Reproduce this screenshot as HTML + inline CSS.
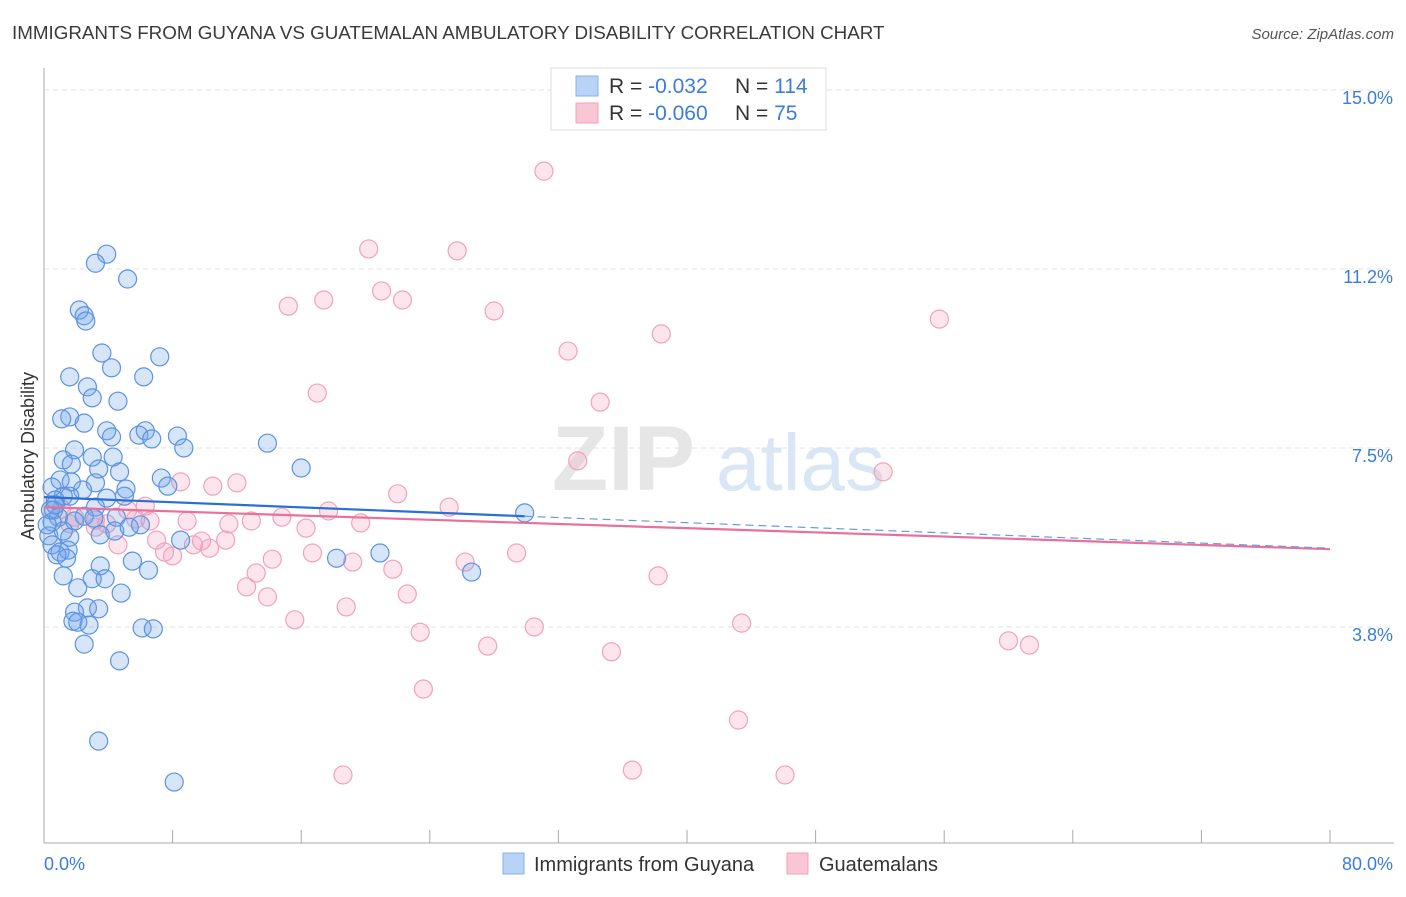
<!DOCTYPE html>
<html><head><meta charset="utf-8">
<style>
body{margin:0;background:#fff;font-family:"Liberation Sans",sans-serif;}
svg text{font-family:"Liberation Sans",sans-serif;}
</style></head>
<body>
<svg id="chart" width="1406" height="892" viewBox="0 0 1406 892">
<text x="12" y="39" font-size="18.8" fill="#3a3a3a">IMMIGRANTS FROM GUYANA VS GUATEMALAN AMBULATORY DISABILITY CORRELATION CHART</text>
<text x="1394" y="39" font-size="15" fill="#555" text-anchor="end" font-style="italic">Source: ZipAtlas.com</text>
<g>
<text x="552" y="490" font-size="92" fill="#e6e6e6" font-family="Liberation Serif" font-weight="bold">ZIP</text>
<text x="716" y="490" font-size="80" fill="#d8e6f5">atlas</text>
</g>
<g id="grid"></g>
<g id="axes"></g>
<g id="pts"></g>
<g id="lines"></g>
<g>
<rect x="551" y="68" width="275" height="62" fill="#fff" stroke="#ddd"/>
<rect x="576" y="76" width="22" height="20" fill="#b8d3f5" stroke="#8ab2e8"/>
<rect x="576" y="103" width="22" height="20" fill="#f9c6d6" stroke="#f0a0bc"/>
<text x="609" y="93" font-size="21" fill="#333">R = <tspan fill="#3b7dd8">-0.032</tspan><tspan x="735">N = </tspan><tspan fill="#3b7dd8">114</tspan></text>
<text x="609" y="120" font-size="21" fill="#333">R = <tspan fill="#3b7dd8">-0.060</tspan><tspan x="735">N = </tspan><tspan fill="#3b7dd8"> 75</tspan></text>
</g>
<g>
<rect x="503" y="853" width="21" height="21" fill="#b8d3f5" stroke="#8ab2e8"/>
<text x="534" y="871" font-size="20" fill="#333">Immigrants from Guyana</text>
<rect x="787" y="853" width="21" height="21" fill="#f9c6d6" stroke="#f0a0bc"/>
<text x="819" y="871" font-size="20" fill="#333">Guatemalans</text>
</g>
<text transform="translate(34,456) rotate(-90)" font-size="18" fill="#333" text-anchor="middle">Ambulatory Disability</text>
</svg>
<script>
const yTicks=[15.0,11.25,7.5,3.75];
const yTickLabels=["15.0%","11.2%","7.5%","3.8%"];
const xTickVals=[0,8,16,24,32,40,48,56,64,72,80];
const xEndLabels=["0.0%","80.0%"];
const blueX=[3.9,3.2,5.2,2.2,2.5,2.6,3.6,7.2,4.2,1.6,6.2,2.7,3.0,4.6,1.6,1.1,2.5,3.9,4.2,5.9,6.3,6.7,8.3,13.9,1.9,8.7,3.0,4.3,1.2,1.7,3.4,16.0,4.7,7.3,1.0,7.7,1.7,3.2,0.5,2.4,5.1,1.2,3.9,1.6,5.0,0.7,3.2,0.6,2.5,0.9,3.1,1.9,0.5,4.5,29.9,6.0,1.2,3.5,0.3,1.6,8.5,0.5,1.5,1.0,4.4,5.3,0.8,1.4,18.2,20.9,5.5,3.5,6.5,26.6,1.2,3.0,3.8,2.1,4.8,2.7,1.9,3.4,1.8,2.8,2.1,6.1,6.8,2.5,4.7,3.4,8.1,0.2,0.4,0.7];
const blueY=[11.56,11.37,11.04,10.39,10.27,10.16,9.49,9.41,9.18,8.99,8.99,8.78,8.55,8.48,8.15,8.11,8.02,7.86,7.73,7.77,7.86,7.69,7.75,7.60,7.46,7.50,7.31,7.31,7.25,7.16,7.06,7.08,7.00,6.87,6.83,6.70,6.79,6.77,6.68,6.62,6.64,6.49,6.45,6.49,6.49,6.41,6.26,6.20,6.07,6.05,6.03,5.97,5.95,6.05,6.14,5.89,5.76,5.68,5.66,5.63,5.57,5.47,5.36,5.32,5.76,5.84,5.26,5.19,5.19,5.30,5.13,5.03,4.94,4.90,4.82,4.76,4.76,4.57,4.46,4.15,4.06,4.13,3.87,3.79,3.85,3.73,3.71,3.39,3.04,1.36,0.50,5.89,6.20,6.31];
const pinkX=[31.1,20.2,25.7,21.0,15.2,17.4,22.3,28.0,55.7,38.4,32.6,17.0,34.6,8.5,10.5,12.0,33.2,52.2,22.0,25.2,17.7,6.3,5.2,1.1,1.9,3.2,6.6,8.9,11.5,12.9,14.8,16.3,19.7,3.9,4.6,7.0,7.5,8.0,9.3,9.8,10.3,11.3,14.2,16.7,19.2,21.7,26.2,29.4,13.2,12.6,13.9,18.8,22.6,38.2,15.6,23.4,30.5,27.6,35.3,43.4,60.0,61.3,23.6,43.2,18.6,36.6,46.1,3.2,1.6,5.7];
const pinkY=[13.30,11.67,11.63,10.79,10.47,10.60,10.60,10.37,10.20,9.89,9.53,8.65,8.46,6.79,6.70,6.77,7.23,7.00,6.54,6.26,6.18,6.28,6.20,6.22,6.05,5.99,5.97,5.97,5.91,5.97,6.05,5.82,5.93,5.91,5.47,5.57,5.32,5.24,5.47,5.55,5.40,5.57,5.17,5.30,5.11,4.96,5.11,5.30,4.88,4.59,4.38,4.17,4.44,4.82,3.90,3.64,3.75,3.35,3.23,3.83,3.46,3.37,2.45,1.80,0.65,0.75,0.65,5.84,5.91,6.01];
const blueTrend=[6.47,5.40];
const pinkTrend=[6.26,5.38];
const blueSolidEnd=29.9;

const NS="http://www.w3.org/2000/svg";
const X0=44,X1=1330;
function sx(v){return X0+(X1-X0)*v/80;}
function sy(v){return 90+(15-v)*47.73;}
function mk(tag,attrs,parent){const e=document.createElementNS(NS,tag);for(const k in attrs)e.setAttribute(k,attrs[k]);parent.appendChild(e);return e;}
const grid=document.getElementById('grid'),axes=document.getElementById('axes'),pts=document.getElementById('pts'),lines=document.getElementById('lines');
yTicks.forEach((t,i)=>{
  const l=mk('line',{x1:X0,x2:1394,y1:sy(t),y2:sy(t),stroke:'#e2e2e2','stroke-dasharray':'5,4'},grid);
  
  
  const tx=mk('text',{x:1393,y:sy(t)+14,'font-size':18,fill:'#3b7dd8','text-anchor':'end'},axes);
  tx.textContent=yTickLabels[i];
  
  
});
const ya=mk('line',{x1:X0,x2:X0,y1:68,y2:843,stroke:'#aaa'},axes);


const xa=mk('line',{x1:X0,x2:1394,y1:843,y2:843,stroke:'#aaa'},axes);


xTickVals.forEach(v=>{
  const t=mk('line',{x1:sx(v),x2:sx(v),y1:830,y2:843,stroke:'#aaa'},axes);
  
  
});
const xl0=mk('text',{x:44,y:870,'font-size':18,fill:'#3b7dd8'},axes);xl0.textContent=xEndLabels[0];


const xl1=mk('text',{x:1393,y:870,'font-size':18,fill:'#3b7dd8','text-anchor':'end'},axes);xl1.textContent=xEndLabels[1];


pinkX.forEach((v,i)=>{
  const c=mk('circle',{cx:sx(v),cy:sy(pinkY[i]),r:9,fill:'rgba(245,160,190,0.28)',stroke:'#f0a2bd','stroke-width':1.2},pts);
  
  
});
blueX.forEach((v,i)=>{
  const c=mk('circle',{cx:sx(v),cy:sy(blueY[i]),r:9,fill:'rgba(110,160,235,0.28)',stroke:'#5b93e0','stroke-width':1.2},pts);
  
  
});
function trendAt(tr,x){return tr[0]+(tr[1]-tr[0])*x/80;}
const pl=mk('line',{x1:sx(0),y1:sy(pinkTrend[0]),x2:sx(80),y2:sy(pinkTrend[1]),stroke:'#e8709a','stroke-width':2.2},lines);


const bl=mk('line',{x1:sx(0),y1:sy(blueTrend[0]),x2:sx(blueSolidEnd),y2:sy(trendAt(blueTrend,blueSolidEnd)),stroke:'#2a6fd6','stroke-width':2.2},lines);


const bd=mk('line',{x1:sx(blueSolidEnd),y1:sy(trendAt(blueTrend,blueSolidEnd)),x2:sx(80),y2:sy(blueTrend[1]),stroke:'#6a9ae0','stroke-width':1.2,'stroke-dasharray':'8,5'},lines);


</script>
</body></html>
